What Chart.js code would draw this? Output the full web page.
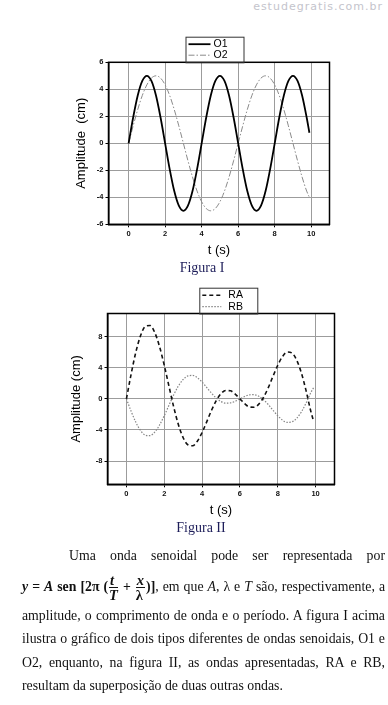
<!DOCTYPE html>
<html>
<head>
<meta charset="utf-8">
<script src="https://cdn.jsdelivr.net/npm/chart.js@4/dist/chart.umd.min.js"></script>
<style>
    html, body { margin: 0; padding: 0; background: #fff; }
    body { width: 388px; height: 705px; position: relative; overflow: hidden; }
    canvas { position: absolute; left: 0; }
    #chart1 { top: 30px; }
    #chart2 { top: 280px; }
    .wm { position: absolute; right: 5px; top: 0; font: 11px 'DejaVu Sans', sans-serif; color: #c4c4cc; letter-spacing: 1px; }
    .fig { position: absolute; width: 120px; text-align: center; font: 14px 'Liberation Serif', serif; color: #1e1e5a; }
    .ln { position: absolute; left: 22px; width: 363px; font: 13.8px 'Liberation Serif', serif; color: #111;
          text-align: justify; text-align-last: justify; white-space: nowrap; height: 20px; line-height: 20px; }
    .ln.last { text-align-last: left; }
    .frac { display: inline-block; vertical-align: middle; text-align: center; line-height: 14px; margin: 0 1px; font-size: 14.5px; }
    .frac span { display: block; }
    .frac .num { border-bottom: 1px solid #111; padding: 0 1px; }
</style>
</head>
<body>
<div class="wm">estudegratis.com.br</div>

<canvas id="chart1" width="388" height="235"></canvas>
<div class="fig" style="left:142px; top:260px;">Figura I</div>

<canvas id="chart2" width="388" height="244"></canvas>
<div class="fig" style="left:141px; top:520px;">Figura II</div>

<div class="ln" style="left:69px; width:316px; top:546px;">Uma onda senoidal pode ser representada por</div>
<div class="ln" style="top:570px; height:34px; line-height:34px;"><b><i>y</i> = <i>A</i> sen [2π (<span class="frac"><span class="num"><i>t</i></span><span><i>T</i></span></span> + <span class="frac"><span class="num"><i>x</i></span><span>λ</span></span>)]</b>, em que <i>A</i>, λ e <i>T</i> são, respectivamente, a</div>
<div class="ln" style="top:606px;">amplitude, o comprimento de onda e o período. A figura I acima</div>
<div class="ln" style="top:629px;">ilustra o gráfico de dois tipos diferentes de ondas senoidais, O1 e</div>
<div class="ln" style="top:653px;">O2, enquanto, na figura II, as ondas apresentadas, RA e RB,</div>
<div class="ln last" style="top:676px;">resultam da superposição de duas outras ondas.</div>

<script>
// time samples (s)
const tValues = [0, 0.25, 0.5, 0.75, 1, 1.25, 1.5, 1.75, 2, 2.25, 2.5, 2.75, 3, 3.25, 3.5, 3.75,
    4, 4.25, 4.5, 4.75, 5, 5.25, 5.5, 5.75, 6, 6.25, 6.5, 6.75, 7, 7.25, 7.5, 7.75,
    8, 8.25, 8.5, 8.75, 9, 9.25, 9.5, 9.75, 9.9];

// Figura I
const o1Values = [0, 1.91, 3.54, 4.62, 5, 4.62, 3.54, 1.91, 0, -1.91, -3.54, -4.62, -5, -4.62, -3.54, -1.91,
    0, 1.91, 3.54, 4.62, 5, 4.62, 3.54, 1.91, 0, -1.91, -3.54, -4.62, -5, -4.62, -3.54, -1.91,
    0, 1.91, 3.54, 4.62, 5, 4.62, 3.54, 1.91, 0.78];
const o2Values = [0, 1.29, 2.5, 3.54, 4.33, 4.83, 5, 4.83, 4.33, 3.54, 2.5, 1.29, 0, -1.29, -2.5, -3.54,
    -4.33, -4.83, -5, -4.83, -4.33, -3.54, -2.5, -1.29, 0, 1.29, 2.5, 3.54, 4.33, 4.83, 5, 4.83,
    4.33, 3.54, 2.5, 1.29, 0, -1.29, -2.5, -3.54, -4.0];

// Figura II
const raValues = [0, 3.2, 6.04, 8.16, 9.33, 9.45, 8.54, 6.74, 4.33, 1.63, -1.04, -3.33, -5, -5.91, -6.04, -5.45,
    -4.33, -2.92, -1.46, -0.21, 0.67, 1.08, 1.04, 0.62, 0, -0.62, -1.04, -1.08, -0.67, 0.21, 1.46, 2.92,
    4.33, 5.45, 6.04, 5.91, 5, 3.33, 1.04, -1.63, -2.9];
const rbValues = [0, -1.6, -3.02, -4.08, -4.67, -4.73, -4.27, -3.37, -2.17, -0.82, 0.52, 1.67, 2.5, 2.96, 3.02, 2.73,
    2.17, 1.46, 0.73, 0.11, -0.34, -0.54, -0.52, -0.31, 0, 0.31, 0.52, 0.54, 0.34, -0.11, -0.73, -1.46,
    -2.17, -2.73, -3.02, -2.96, -2.5, -1.67, -0.52, 0.82, 1.45];

// axis ticks
const xTicks = [0, 2, 4, 6, 8, 10];
const yTicks1 = [-6, -4, -2, 0, 2, 4, 6];
const yTicks2 = [-8, -4, 0, 4, 8];

const tickFont = { family: "'Liberation Sans', Arial, sans-serif", size: 7.5, weight: 'bold' };
const titleFont = { family: "'Liberation Sans', Arial, sans-serif", size: 13 };

function points(values) {
    return tValues.map((t, i) => ({ x: t, y: values[i] }));
}

// black frame around the plot + boxed legend above it
const framePlugin = {
    id: 'frame',
    afterDraw(chart, args, opts) {
        const { ctx, chartArea: a } = chart;
        ctx.save();
        ctx.strokeStyle = '#000';
        ctx.lineWidth = 1.5;
        ctx.strokeRect(a.left, a.top, a.right - a.left, a.bottom - a.top);

        // legend box
        const lg = opts.legend;
        ctx.lineWidth = 1;
        ctx.strokeStyle = '#333';
        ctx.strokeRect(lg.left + 0.5, lg.top + 0.5, lg.width, a.top - lg.top);
        ctx.font = lg.fontSize + "px 'Liberation Sans', Arial, sans-serif";
        ctx.textBaseline = 'middle';
        ctx.fillStyle = '#000';
        chart.data.datasets.forEach((ds, i) => {
            const y = lg.top + lg.rowTop + i * lg.rowGap;
            ctx.beginPath();
            ctx.setLineDash(ds.borderDash || []);
            ctx.strokeStyle = ds.borderColor;
            ctx.lineWidth = ds.borderWidth;
            ctx.moveTo(lg.left + lg.lineX0, y);
            ctx.lineTo(lg.left + lg.lineX1, y);
            ctx.stroke();
            ctx.setLineDash([]);
            ctx.fillText(ds.label, lg.left + lg.textX, y);
        });
        ctx.restore();
    }
};

function makeOptions(xMin, xMax, yMin, yMax, yTicks, yTitle, pad, yWidth, xHeight, legend) {
    return {
        responsive: false,
        animation: false,
        devicePixelRatio: 1,
        layout: { padding: pad },
        elements: { point: { radius: 0 } },
        plugins: {
            legend: { display: false },
            tooltip: { enabled: false },
            frame: { legend: legend }
        },
        scales: {
            x: {
                type: 'linear',
                min: xMin,
                max: xMax,
                afterBuildTicks: s => { s.ticks = xTicks.map(v => ({ value: v })); },
                afterFit: s => { s.height = xHeight; },
                grid: { color: '#9c9c9c', tickColor: '#000', tickLength: 3, lineWidth: 1 },
                border: { color: '#000', width: 1.5 },
                ticks: { font: tickFont, color: '#111', padding: 2, maxRotation: 0 },
                title: { display: true, text: 't (s)', font: titleFont, color: '#000', padding: { top: 0, bottom: 4 } }
            },
            y: {
                min: yMin,
                max: yMax,
                afterBuildTicks: s => { s.ticks = yTicks.map(v => ({ value: v })); },
                afterFit: s => { s.width = yWidth; },
                grid: { color: '#9c9c9c', tickColor: '#000', tickLength: 3, lineWidth: 1 },
                border: { color: '#000', width: 1.5 },
                ticks: { font: tickFont, color: '#111', padding: 2 },
                title: { display: true, text: yTitle, font: titleFont, color: '#000', padding: { top: 0, bottom: 4 } }
            }
        }
    };
}

new Chart(document.getElementById('chart1'), {
    type: 'line',
    data: {
        datasets: [
            { label: 'O1', data: points(o1Values), borderColor: '#000', borderWidth: 1.8,
              cubicInterpolationMode: 'monotone', fill: false },
            { label: 'O2', data: points(o2Values), borderColor: '#8a8a8a', borderWidth: 1,
              borderDash: [6, 2, 1.5, 2], cubicInterpolationMode: 'monotone', fill: false }
        ]
    },
    options: makeOptions(-1.1, 11, -6, 6, yTicks1, 'Amplitude  (cm)',
        { left: 73.7, right: 58.5, top: 32.3, bottom: 3.2 }, 34.8, 37.5,
        { left: 185.5, top: 6.7, width: 58, rowTop: 7.5, rowGap: 11, lineX0: 3, lineX1: 25, textX: 28, fontSize: 10.5 }),
    plugins: [framePlugin]
});

new Chart(document.getElementById('chart2'), {
    type: 'line',
    data: {
        datasets: [
            { label: 'RA', data: points(raValues), borderColor: '#111', borderWidth: 1.6,
              borderDash: [4, 3], cubicInterpolationMode: 'monotone', fill: false },
            { label: 'RB', data: points(rbValues), borderColor: '#858585', borderWidth: 1.2,
              borderDash: [1.5, 1.5], cubicInterpolationMode: 'monotone', fill: false }
        ]
    },
    options: makeOptions(-1, 11, -11, 11, yTicks2, 'Amplitude (cm)',
        { left: 68.2, right: 53.5, top: 33.5, bottom: 2.2 }, 39.3, 37.5,
        { left: 199.3, top: 7.7, width: 58, rowTop: 7.5, rowGap: 11.5, lineX0: 3, lineX1: 22, textX: 29, fontSize: 10.5 }),
    plugins: [framePlugin]
});
</script>
</body>
</html>
